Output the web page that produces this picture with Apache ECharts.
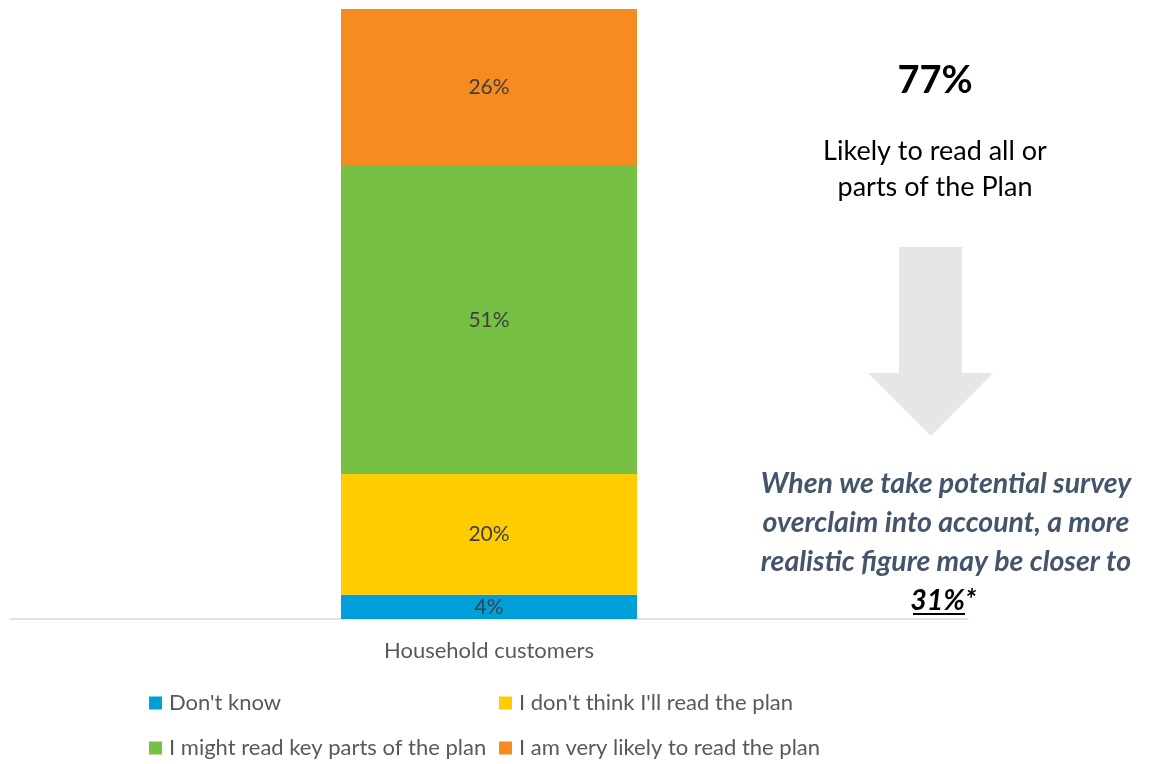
<!DOCTYPE html>
<html>
<head>
<meta charset="utf-8">
<style>
  html, body { margin: 0; padding: 0; background: #fff; }
  #chart { width: 1154px; height: 764px; }
</style>
<script src="https://cdn.jsdelivr.net/npm/echarts@6/dist/echarts.min.js"></script>
</head>
<body>
<div id="chart"></div>
<script>
// Survey responses: likelihood of reading the plan (household customers)
const categories = ['Household customers'];
const seriesNames = [
  "Don't know",
  "I don't think I'll read the plan",
  'I might read key parts of the plan',
  'I am very likely to read the plan'
];
const dontKnow = [4];
const dontThink = [20];
const mightRead = [51];
const veryLikely = [26];
const seriesColors = ['#009FDA', '#FFCC00', '#76C043', '#F68B1F'];

const headline = '77%';
const headlineNote = 'Likely to read all or\nparts of the Plan';
const overclaimNote = 'When we take potential survey\noverclaim into account, a more\nrealistic figure may be closer to';
const realisticFigure = '31%';

const FONT = 'Lato, "Open Sans", sans-serif';
const valuesBySeries = [dontKnow, dontThink, mightRead, veryLikely];
const stackTotal = valuesBySeries.reduce((s, arr) => s + arr[0], 0);

const chart = echarts.init(document.getElementById('chart'));

const series = valuesBySeries.map((vals, i) => ({
  name: seriesNames[i],
  type: 'bar',
  stack: 'total',
  barWidth: 296,
  data: vals,
  itemStyle: { color: seriesColors[i] },
  label: {
    show: true,
    position: 'inside',
    formatter: '{c}%',
    color: '#404040',
    fontFamily: FONT,
    fontSize: 21
  }
}));

// one legend block per entry, laid out in two rows of two
const legendPos = [
  { left: 149, top: 692 },
  { left: 499, top: 692 },
  { left: 149, top: 737 },
  { left: 499, top: 737 }
];
const legends = seriesNames.map((n, i) => ({
  data: [n],
  left: legendPos[i].left,
  top: legendPos[i].top,
  padding: 0,
  itemWidth: 13,
  itemHeight: 13,
  itemGap: 0,
  icon: 'rect',
  selectedMode: false,
  textStyle: { color: '#595959', fontFamily: FONT, fontSize: 22, padding: [0, 0, 0, 2] }
}));

chart.setOption({
  animation: false,
  backgroundColor: '#ffffff',
  grid: { left: 10, right: 186, top: 9, bottom: 145, containLabel: false },
  xAxis: {
    type: 'category',
    data: categories,
    axisLine: { show: true, lineStyle: { color: '#D9D9D9', width: 1.5 } },
    axisTick: { show: false },
    axisLabel: { color: '#595959', fontFamily: FONT, fontSize: 22, margin: 21 }
  },
  yAxis: {
    type: 'value',
    min: 0,
    max: stackTotal,
    show: false,
    splitLine: { show: false }
  },
  legend: legends,
  series: series,
  graphic: [
    {
      type: 'polygon',
      shape: {
        points: [[899, 247], [962, 247], [962, 373], [993, 373], [931, 436], [868, 373], [899, 373]]
      },
      style: { fill: '#E6E6E6' },
      z: 1
    },
    {
      type: 'text',
      x: 935, y: 81,
      style: {
        text: headline,
        fill: '#000000',
        font: 'bold 38px ' + FONT,
        textAlign: 'center',
        textVerticalAlign: 'middle'
      }
    },
    {
      type: 'text',
      x: 935, y: 169,
      style: {
        text: headlineNote,
        fill: '#000000',
        font: '27px ' + FONT,
        lineHeight: 36,
        textAlign: 'center',
        textVerticalAlign: 'middle'
      }
    },
    {
      type: 'text',
      x: 946, y: 523,
      style: {
        text: overclaimNote,
        fill: '#44546A',
        font: 'italic bold 28.5px ' + FONT,
        lineHeight: 39,
        textAlign: 'center',
        textVerticalAlign: 'middle'
      }
    },
    {
      type: 'text',
      x: 965, y: 601,
      style: {
        text: realisticFigure,
        fill: '#000000',
        font: 'italic bold 28.5px ' + FONT,
        textAlign: 'right',
        textVerticalAlign: 'middle'
      }
    },
    {
      type: 'text',
      x: 965, y: 600,
      style: {
        text: '*',
        fill: '#000000',
        font: 'italic bold 28.5px ' + FONT,
        textAlign: 'left',
        textVerticalAlign: 'middle'
      }
    },
    {
      type: 'line',
      shape: { x1: 913, y1: 614, x2: 965, y2: 614 },
      style: { stroke: '#000000', lineWidth: 2 }
    }
  ]
});
</script>
</body>
</html>
